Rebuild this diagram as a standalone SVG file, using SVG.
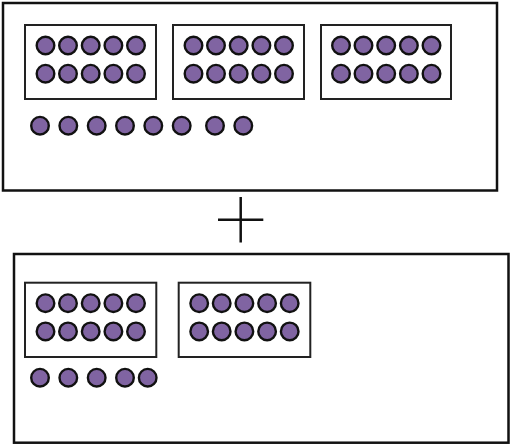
<svg xmlns="http://www.w3.org/2000/svg" width="511" height="446" viewBox="0 0 511 446">
<defs>
<style>
.outer{fill:#fff;stroke:#111;stroke-width:2.5}
.frame{fill:#fff;stroke:#222;stroke-width:2}
.dot{fill:#8064a2;stroke:#111;stroke-width:2.4}
.plus{stroke:#111;stroke-width:2.5;fill:none}
</style>
<g id="fr">
<circle class="dot" cx="20.5" cy="20.5" r="8.8"/>
<circle class="dot" cx="43" cy="20.5" r="8.8"/>
<circle class="dot" cx="65.7" cy="20.5" r="8.8"/>
<circle class="dot" cx="88.4" cy="20.5" r="8.8"/>
<circle class="dot" cx="111" cy="20.5" r="8.8"/>
<circle class="dot" cx="20.5" cy="48.7" r="8.8"/>
<circle class="dot" cx="43" cy="48.7" r="8.8"/>
<circle class="dot" cx="65.7" cy="48.7" r="8.8"/>
<circle class="dot" cx="88.4" cy="48.7" r="8.8"/>
<circle class="dot" cx="111" cy="48.7" r="8.8"/>
</g>
</defs>
<rect width="511" height="446" fill="#fff"/>
<g id="top-group">
<rect class="outer" x="3" y="3" width="494" height="187.5"/>
<g id="top-frame-1"><rect class="frame" x="25" y="25" width="131" height="74"/><use href="#fr" x="25" y="25"/></g>
<g id="top-frame-2"><rect class="frame" x="173" y="25" width="131" height="74"/><use href="#fr" x="173" y="25"/></g>
<g id="top-frame-3"><rect class="frame" x="321" y="25" width="130" height="74"/><use href="#fr" x="320.5" y="25"/></g>
<g id="top-ones">
<circle class="dot" cx="40" cy="125.7" r="8.8"/>
<circle class="dot" cx="68.3" cy="125.7" r="8.8"/>
<circle class="dot" cx="96.7" cy="125.7" r="8.8"/>
<circle class="dot" cx="125" cy="125.7" r="8.8"/>
<circle class="dot" cx="153.3" cy="125.7" r="8.8"/>
<circle class="dot" cx="181.7" cy="125.7" r="8.8"/>
<circle class="dot" cx="215" cy="125.7" r="8.8"/>
<circle class="dot" cx="243.3" cy="125.7" r="8.8"/>
</g>
</g>
<g id="plus-sign">
<line class="plus" x1="240.7" y1="197" x2="240.7" y2="242.5"/>
<line class="plus" x1="218" y1="219.7" x2="263.3" y2="219.7"/>
</g>
<g id="bottom-group">
<rect class="outer" x="14" y="254" width="494.5" height="188.7"/>
<g id="bottom-frame-1"><rect class="frame" x="25" y="282.7" width="131.3" height="74.3"/><use href="#fr" x="25" y="282.7"/></g>
<g id="bottom-frame-2"><rect class="frame" x="178.7" y="282.7" width="131.6" height="74.3"/><use href="#fr" x="178.7" y="282.7"/></g>
<g id="bottom-ones">
<circle class="dot" cx="40" cy="377.7" r="8.8"/>
<circle class="dot" cx="68.3" cy="377.7" r="8.8"/>
<circle class="dot" cx="96.7" cy="377.7" r="8.8"/>
<circle class="dot" cx="125" cy="377.7" r="8.8"/>
<circle class="dot" cx="147.7" cy="377.7" r="8.8"/>
</g>
</g>
</svg>
